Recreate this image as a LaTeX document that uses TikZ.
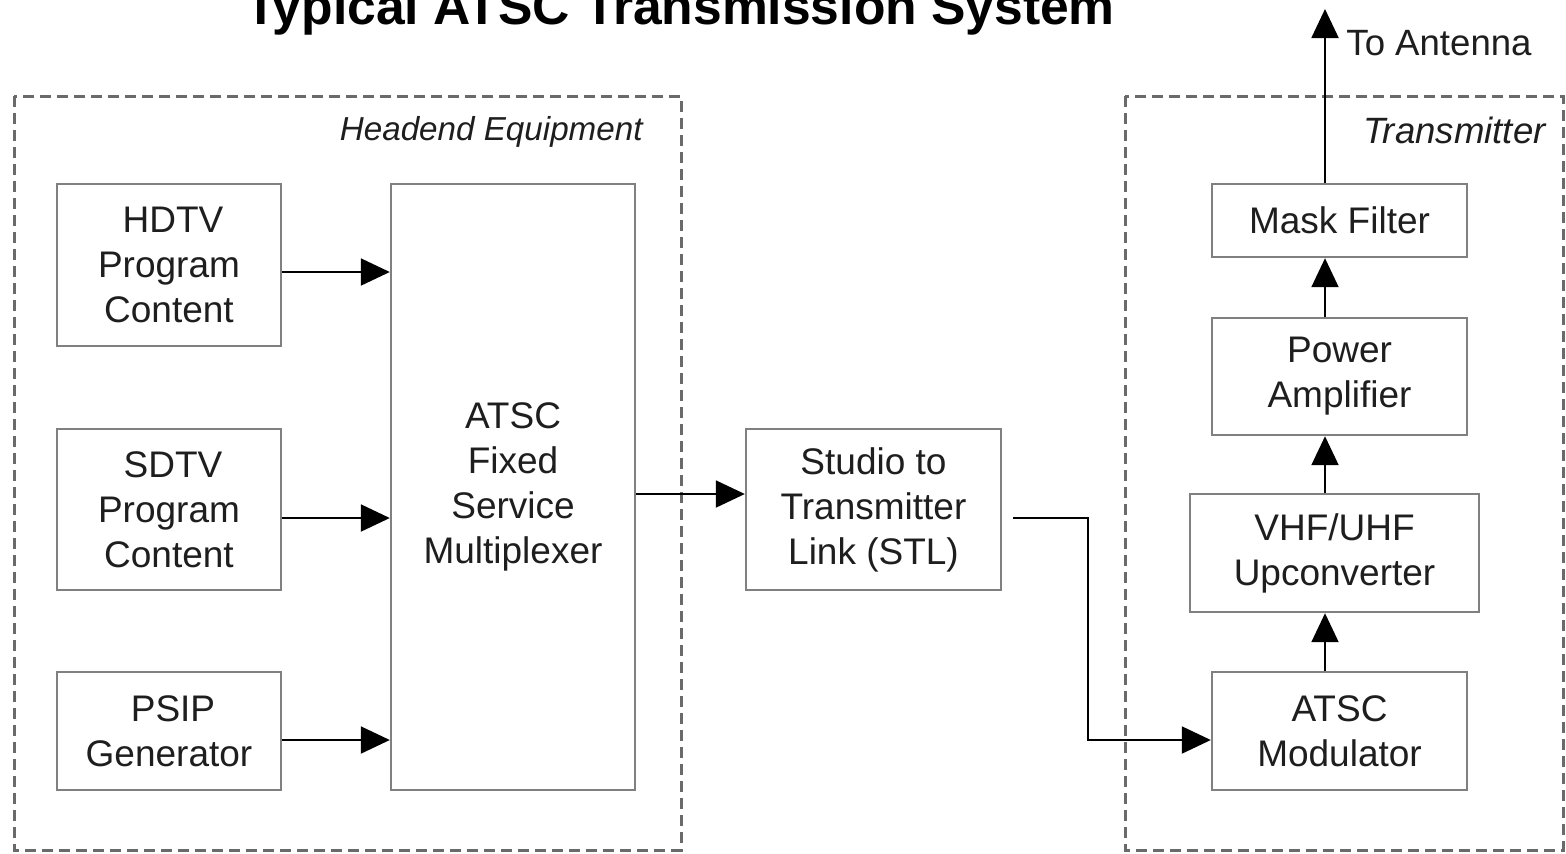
\documentclass[tikz,border=0pt]{standalone}
\usepackage{fontspec}
\setmainfont{Liberation Sans}
\usetikzlibrary{arrows.meta,calc}
\definecolor{boxgray}{HTML}{808080}
\definecolor{dashgray}{HTML}{6A6A6A}
\definecolor{txt}{HTML}{1E1E1E}
\tikzset{
  blk/.style={draw=boxgray, line width=1.2pt, inner sep=0pt, align=center,
    text=txt, font=\fontsize{18.5}{22.5}\selectfont},
  grp/.style={draw=dashgray, line width=1.5pt, dash pattern=on 5.5pt off 3pt},
  arr/.style={draw=black, line width=1pt, -{Triangle[length=14.5pt,width=13.5pt]}},
  lbl/.style={inner sep=0pt, text=txt},
}
\begin{document}
\begin{tikzpicture}[x=0.5pt,y=-0.5pt]
\useasboundingbox (0,0) rectangle (1566,853);
\fill[white] (0,0) rectangle (1566,853);

% title (cut off at the top edge, as in the reference)
\node[lbl, anchor=base, font=\fontsize{25.8}{30}\selectfont\bfseries, text=black] (title) at (680,24) {Typical ATSC Transmission System};

% group frames
\draw[grp] (14,96) rectangle (681,850);
\draw[grp] (1125,96) rectangle (1563,850);
\node[lbl, anchor=base east, font=\fontsize{16.6}{20}\selectfont\itshape] (headlbl) at (643,140) {Headend Equipment};
\node[lbl, anchor=base east, font=\fontsize{18.3}{22}\selectfont\itshape] (txlbl) at (1546,143) {Transmitter};

% blocks
\node[blk, minimum width=112pt, minimum height=81pt] (hdtv) at (169,265) {\hspace*{4pt}HDTV\\Program\\Content};
\node[blk, minimum width=112pt, minimum height=80.5pt] (sdtv) at (169,509.5) {\hspace*{4pt}SDTV\\Program\\Content};
\node[blk, minimum width=112pt, minimum height=59pt] (psip) at (169,731) {\hspace*{4pt}PSIP\\Generator};
\node[blk, minimum width=122pt, minimum height=303pt] (mux) at (513,487) {ATSC\\Fixed\\Service\\Multiplexer};
\node[blk, minimum width=127.5pt, minimum height=80.5pt] (stl) at (873.5,509.5) {Studio to\\Transmitter\\Link (STL)};
\node[blk, minimum width=127.5pt, minimum height=36.5pt] (mask) at (1339.5,220.5) {Mask Filter};
\node[blk, minimum width=127.5pt, minimum height=58.5pt] (pa) at (1339.5,376.5) {Power\\Amplifier};
\node[blk, minimum width=144.5pt, minimum height=59pt] (vhf) at (1334.5,553) {VHF/UHF\\Upconverter};
\node[blk, minimum width=127.5pt, minimum height=59pt] (mod) at (1339.5,731) {ATSC\\Modulator};

% helper coordinates
\coordinate (vx) at (1325,0);
\coordinate (ant) at (1325,9);
\coordinate (stlout) at (1013,518);
\coordinate (bend) at (1088,518);

% connectors
\draw[arr] ($(hdtv.east)+(0,7)$) -- ($(mux.west |- hdtv.east)+(0,7)$);
\draw[arr] ($(sdtv.east)+(0,8.5)$) -- ($(mux.west |- sdtv.east)+(0,8.5)$);
\draw[arr] ($(psip.east)+(0,9)$) -- ($(mux.west |- psip.east)+(0,9)$);
\draw[arr] ($(mux.east)+(0,7)$) -- ($(stl.west |- mux.east)+(0,7)$);
\draw[arr] (stlout) -- (bend) |- ($(mod.west)+(0,9)$);
\draw[arr] (mod.north -| vx) -- (vhf.south -| vx);
\draw[arr] (vhf.north -| vx) -- (pa.south -| vx);
\draw[arr] (pa.north -| vx) -- (mask.south -| vx);
\draw[arr] (mask.north -| vx) -- (ant);
\node[lbl, anchor=base west, font=\fontsize{18.3}{22}\selectfont] (antlbl) at (1346,55) {To Antenna};
\end{tikzpicture}
\end{document}
